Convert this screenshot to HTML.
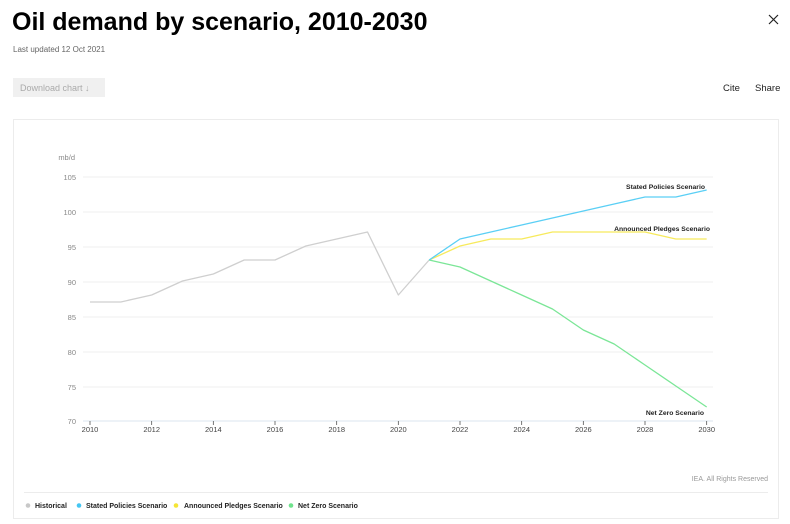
<!DOCTYPE html>
<html>
<head>
<meta charset="utf-8">
<style>
  html,body{margin:0;padding:0;background:#fff;}
  body{width:790px;height:524px;overflow:hidden;position:relative;font-family:"Liberation Sans",sans-serif;}
</style>
</head>
<body>
<svg width="790" height="524" viewBox="0 0 790 524" xmlns="http://www.w3.org/2000/svg" style="position:absolute;left:0;top:0;font-family:'Liberation Sans',sans-serif;">
  <!-- Header -->
  <text x="12" y="30" font-size="25" font-weight="bold" fill="#000" letter-spacing="0">Oil demand by scenario, 2010-2030</text>
  <text x="13" y="52" font-size="8" fill="#666">Last updated 12 Oct 2021</text>
  <!-- close X -->
  <path d="M769 15 L778 24 M778 15 L769 24" stroke="#222" stroke-width="1.2" fill="none"/>
  <!-- Download button -->
  <rect x="13" y="78" width="92" height="19" fill="#f0f0f0"/>
  <text x="20" y="91" font-size="9" fill="#aaa">Download chart ↓</text>
  <text x="723" y="91" font-size="9.5" fill="#222">Cite</text>
  <text x="755" y="91" font-size="9.5" fill="#222">Share</text>

  <!-- Chart box -->
  <rect x="13.5" y="119.5" width="765" height="399" fill="#fff" stroke="#ececec" stroke-width="1"/>

  <!-- Gridlines -->
  <g stroke="#efefef" stroke-width="1">
    <line x1="83" y1="177" x2="713" y2="177"/>
    <line x1="83" y1="212" x2="713" y2="212"/>
    <line x1="83" y1="247" x2="713" y2="247"/>
    <line x1="83" y1="282" x2="713" y2="282"/>
    <line x1="83" y1="317" x2="713" y2="317"/>
    <line x1="83" y1="352" x2="713" y2="352"/>
    <line x1="83" y1="387" x2="713" y2="387"/>
  </g>
  <line x1="83" y1="421" x2="713" y2="421" stroke="#dbe6ef" stroke-width="1"/>

  <!-- Y labels -->
  <g font-size="7.5" fill="#888" text-anchor="end">
    <text x="75" y="160">mb/d</text>
    <text x="76" y="180">105</text>
    <text x="76" y="215">100</text>
    <text x="76" y="250">95</text>
    <text x="76" y="285">90</text>
    <text x="76" y="320">85</text>
    <text x="76" y="355">80</text>
    <text x="76" y="390">75</text>
    <text x="76" y="424">70</text>
  </g>

  <!-- X ticks -->
  <g stroke="#555" stroke-width="0.8">
    <line x1="90" y1="421" x2="90" y2="425"/>
    <line x1="151.67" y1="421" x2="151.67" y2="425"/>
    <line x1="213.33" y1="421" x2="213.33" y2="425"/>
    <line x1="275" y1="421" x2="275" y2="425"/>
    <line x1="336.67" y1="421" x2="336.67" y2="425"/>
    <line x1="398.33" y1="421" x2="398.33" y2="425"/>
    <line x1="460" y1="421" x2="460" y2="425"/>
    <line x1="521.67" y1="421" x2="521.67" y2="425"/>
    <line x1="583.33" y1="421" x2="583.33" y2="425"/>
    <line x1="645" y1="421" x2="645" y2="425"/>
    <line x1="706.67" y1="421" x2="706.67" y2="425"/>
  </g>
  <g font-size="7.5" fill="#444" text-anchor="middle">
    <text x="90" y="432">2010</text>
    <text x="151.67" y="432">2012</text>
    <text x="213.33" y="432">2014</text>
    <text x="275" y="432">2016</text>
    <text x="336.67" y="432">2018</text>
    <text x="398.33" y="432">2020</text>
    <text x="460" y="432">2022</text>
    <text x="521.67" y="432">2024</text>
    <text x="583.33" y="432">2026</text>
    <text x="645" y="432">2028</text>
    <text x="706.67" y="432">2030</text>
  </g>

  <!-- Series -->
  <polyline fill="none" stroke="#cfcfcf" stroke-width="1.3" stroke-linejoin="round"
    points="90,302 120.83,302 151.67,295 182.5,281 213.33,274 244.17,260 275,260 305.83,246 336.67,239 367.5,232 398.33,295 429.17,260"/>
  <polyline fill="none" stroke="#f7ea5c" stroke-width="1.3" stroke-linejoin="round"
    points="429.17,260 460,246 490.83,239 521.67,239 552.5,232 583.33,232 614.17,232 645,232 675.83,239 706.67,239"/>
  <polyline fill="none" stroke="#7be697" stroke-width="1.3" stroke-linejoin="round"
    points="429.17,260 460,267 490.83,281 521.67,295 552.5,309 583.33,330 614.17,344 645,365 675.83,386 706.67,407"/>
  <polyline fill="none" stroke="#5acff5" stroke-width="1.3" stroke-linejoin="round"
    points="429.17,260 460,239 490.83,232 521.67,225 552.5,218 583.33,211 614.17,204 645,197 675.83,197 706.67,190"/>

  <!-- Series labels -->
  <g font-size="6.8" font-weight="bold" fill="#222" text-anchor="end">
    <text x="705" y="189">Stated Policies Scenario</text>
    <text x="710" y="231">Announced Pledges Scenario</text>
    <text x="704" y="415">Net Zero Scenario</text>
  </g>

  <!-- Footer -->
  <text x="768" y="481" font-size="7" fill="#999" text-anchor="end">IEA. All Rights Reserved</text>
  <line x1="24" y1="492.5" x2="768" y2="492.5" stroke="#ececec" stroke-width="1"/>

  <!-- Legend -->
  <g font-size="7" font-weight="bold" fill="#222">
    <circle cx="28" cy="505.5" r="2.3" fill="#c8c8c8"/>
    <text x="35" y="508">Historical</text>
    <circle cx="79" cy="505.5" r="2.3" fill="#45c6f2"/>
    <text x="86" y="508">Stated Policies Scenario</text>
    <circle cx="176" cy="505.5" r="2.3" fill="#f5e535"/>
    <text x="184" y="508">Announced Pledges Scenario</text>
    <circle cx="291" cy="505.5" r="2.3" fill="#6fe38c"/>
    <text x="298" y="508">Net Zero Scenario</text>
  </g>
</svg>
</body>
</html>
